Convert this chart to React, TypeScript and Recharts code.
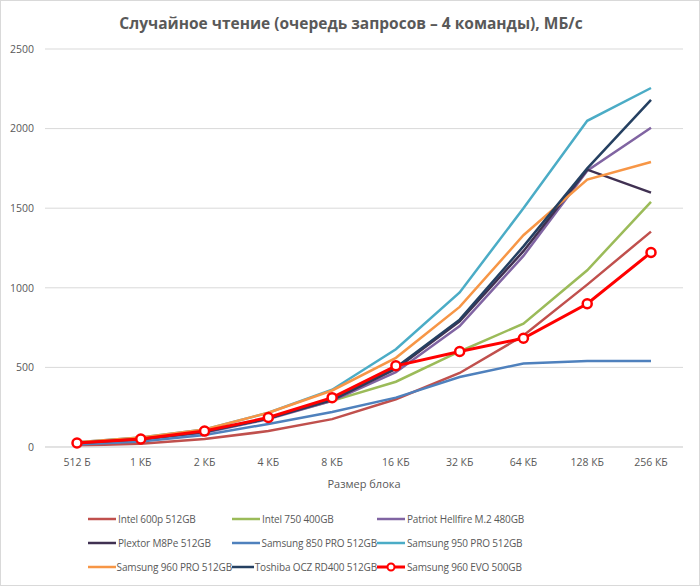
import { CartesianGrid, Legend, Line, LineChart, XAxis, YAxis } from "recharts"

const sizes = ["512 Б", "1 КБ", "2 КБ", "4 КБ", "8 КБ", "16 КБ", "32 КБ", "64 КБ", "128 КБ", "256 КБ"]

const intel600p = [10, 20, 50, 100, 175, 300, 465, 700, 1020, 1353]
const intel750 = [25, 50, 95, 180, 290, 410, 600, 775, 1110, 1540]
const patriot = [22, 45, 90, 175, 290, 470, 760, 1200, 1735, 2005]
const plextor = [25, 50, 95, 180, 295, 490, 790, 1230, 1742, 1598]
const samsung850 = [15, 35, 75, 145, 220, 310, 440, 525, 540, 540]
const samsung950 = [30, 60, 110, 215, 360, 614, 971, 1500, 2049, 2255]
const samsung960pro = [30, 60, 110, 215, 355, 560, 880, 1330, 1680, 1790]
const toshiba = [25, 50, 95, 180, 300, 500, 800, 1260, 1750, 2180]
const samsung960evo = [25, 50, 100, 185, 310, 510, 600, 683, 900, 1222]

const yTicks = [0, 500, 1000, 1500, 2000, 2500]

const series = [
    { key: "intel600p", name: "Intel 600p 512GB", color: "#C0504D", values: intel600p },
    { key: "intel750", name: "Intel 750 400GB", color: "#9BBB59", values: intel750 },
    { key: "patriot", name: "Patriot Hellfire M.2 480GB", color: "#8064A2", values: patriot },
    { key: "plextor", name: "Plextor M8Pe 512GB", color: "#403152", values: plextor },
    { key: "samsung850", name: "Samsung 850 PRO 512GB", color: "#4F81BD", values: samsung850 },
    { key: "samsung950", name: "Samsung 950 PRO 512GB", color: "#4BACC6", values: samsung950 },
    { key: "samsung960pro", name: "Samsung 960 PRO 512GB", color: "#F79646", values: samsung960pro },
    { key: "toshiba", name: "Toshiba OCZ RD400 512GB", color: "#254061", values: toshiba },
    { key: "samsung960evo", name: "Samsung 960 EVO 500GB", color: "#FF0000", values: samsung960evo },
]

const data = sizes.map((size, i) => {
    const row: Record<string, string | number> = { size }
    series.forEach((s) => {
        row[s.key] = s.values[i]
    })
    return row
})

const font = "'Open Sans', 'Noto Sans', sans-serif"
const textColor = "#595959"

function LegendGrid() {
    return (
        <div style={{ display: "grid", gridTemplateColumns: "144px 145px 160px", rowGap: 6, fontFamily: font, fontSize: 10, letterSpacing: -0.15, color: textColor }}>
            {series.map((s) => (
                <div key={s.key} style={{ display: "flex", alignItems: "center", height: 18, whiteSpace: "nowrap" }}>
                    <svg width={29} height={10} style={{ marginRight: 1 }}>
                        <line x1={0} y1={5} x2={28} y2={5} stroke={s.color} strokeWidth={s.key === "samsung960evo" ? 3 : 2.5} />
                        {s.key === "samsung960evo" && <circle cx={14} cy={5} r={3.5} fill="#fff" stroke={s.color} strokeWidth={2} />}
                    </svg>
                    <span>{s.name}</span>
                </div>
            ))}
        </div>
    )
}

export default function App() {
    return (
        <div style={{ position: "absolute", left: 0, top: 0, width: 700, height: 586, background: "#fff", boxSizing: "border-box", border: "1px solid #d9d9d9" }}>
            <div style={{ position: "absolute", top: 11, left: 0, width: 700, textAlign: "center", fontFamily: font, fontWeight: 700, fontSize: 15.5, color: textColor }}>
                Случайное чтение (очередь запросов – 4 команды), МБ/с
            </div>
            <LineChart width={698} height={584} data={data} margin={{ top: 48, right: 16, left: 0, bottom: 30 }}>
                <CartesianGrid vertical={false} stroke="#d9d9d9" />
                <XAxis
                    dataKey="size"
                    tickLine={false}
                    axisLine={{ stroke: "#d9d9d9" }}
                    padding={{ left: 32, right: 32 }}
                    tick={{ fill: textColor, fontSize: 10.5, fontFamily: font, dy: 4 }}
                    height={42}
                    label={{ value: "Размер блока", position: "insideBottom", offset: 1, fill: textColor, fontSize: 11, fontFamily: font }}
                />
                <YAxis
                    ticks={yTicks}
                    domain={[0, 2500]}
                    tickLine={false}
                    axisLine={false}
                    width={44}
                    tick={{ fill: textColor, fontSize: 10.5, fontFamily: font, dx: -3 }}
                />
                <Legend
                    verticalAlign="bottom"
                    content={<LegendGrid />}
                    wrapperStyle={{ position: "absolute", left: 87, top: 509, width: 460 }}
                />
                {series.map((s) =>
                    s.key === "samsung960evo" ? (
                        <Line
                            key={s.key}
                            dataKey={s.key}
                            name={s.name}
                            stroke={s.color}
                            strokeWidth={3}
                            dot={{ r: 4.5, fill: "#fff", stroke: s.color, strokeWidth: 2.5 }}
                            isAnimationActive={false}
                        />
                    ) : (
                        <Line
                            key={s.key}
                            dataKey={s.key}
                            name={s.name}
                            stroke={s.color}
                            strokeWidth={2.5}
                            dot={false}
                            isAnimationActive={false}
                        />
                    )
                )}
            </LineChart>
        </div>
    )
}
